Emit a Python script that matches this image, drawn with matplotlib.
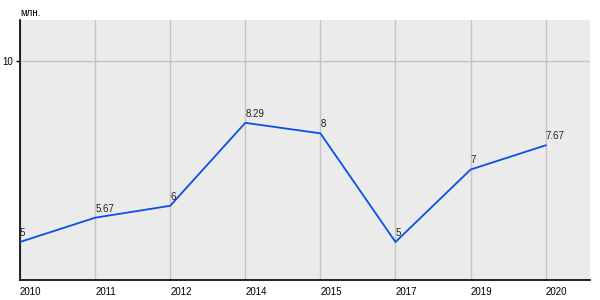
import matplotlib
matplotlib.use("Agg")
import matplotlib.pyplot as plt

years = ["2010", "2011", "2012", "2014", "2015", "2017", "2019", "2020"]
values = [5, 5.67, 6, 8.29, 8, 5, 7, 7.67]
labels = ["5", "5.67", "6", "8.29", "8", "5", "7", "7.67"]

plt.rcParams["font.family"] = ["Liberation Sans", "DejaVu Sans"]

fig = plt.figure(figsize=(6, 3), dpi=100)
ax = fig.add_axes([20 / 600, 1 - 280 / 300, 570 / 600, 260 / 300])
ax.set_facecolor("#ebebeb")

x = list(range(len(years)))
ax.plot(x, values, color="#0a4fe6", linewidth=1.3, zorder=3)
for xi, v, lab in zip(x, values, labels):
    ax.annotate(lab, (xi, v), xytext=(0, 3), textcoords="offset points",
                ha="left", va="bottom", fontsize=7, color="#222222")

ax.set_xlim(0, 7.59)
ax.set_ylim(3.95, 11.13)
ax.set_xticks(x)
ax.set_xticklabels(years, ha="left", fontsize=7)
ax.set_yticks([10])
ax.set_yticklabels(["10"], fontsize=7)
ax.tick_params(axis="x", length=0, pad=5)
ax.tick_params(axis="y", length=3, width=1, pad=2)

ax.grid(True, color="#c4c4c4", linewidth=1)
ax.set_axisbelow(True)
for s in ["top", "right"]:
    ax.spines[s].set_visible(False)
for s in ["left", "bottom"]:
    ax.spines[s].set_color("black")
    ax.spines[s].set_linewidth(1.2)

fig.text(20 / 600, 1 - 13 / 300, "млн.", fontsize=7, ha="left", va="center")

fig.savefig("out.png", dpi=100)
